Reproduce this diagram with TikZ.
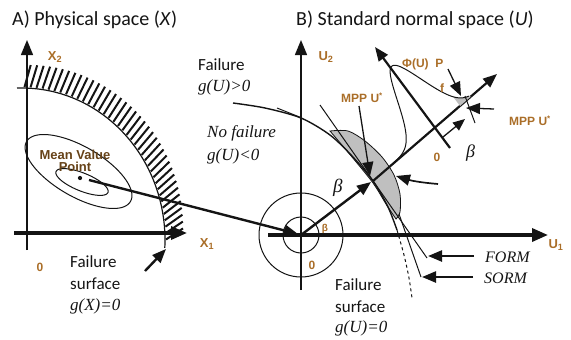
\documentclass[tikz,border=0pt]{standalone}
\usepackage{fontspec}
\setmainfont{Carlito}
\newfontfamily\tnr{Liberation Serif}
\newfontfamily\arl{Liberation Sans}
\usetikzlibrary{arrows.meta}
\definecolor{lbl}{RGB}{170,110,40}
\definecolor{ink}{RGB}{20,20,20}
\begin{document}
\begin{tikzpicture}[x=1pt,y=-1pt,
  bigarrow/.style={line width=2.4pt,draw=ink,-{Triangle[length=14pt,width=11pt]}},
  thinarrow/.style={line width=1.3pt,draw=ink,-{Triangle[length=14pt,width=11pt]}},
  vaxis/.style={line width=1.4pt,draw=ink,-{Triangle[length=15pt,width=12pt]}},
  haxis/.style={line width=3.4pt,draw=ink,-{Triangle[length=16pt,width=13pt]}},
  title/.style={font=\fontsize{20}{24}\selectfont,inner sep=0,anchor=west,text=ink},
  sanstxt/.style={font=\fontsize{17}{20}\selectfont,inner sep=0,anchor=west,text=ink},
  itxt/.style={font=\tnr\itshape\fontsize{17}{20}\selectfont,inner sep=0,anchor=west,text=ink},
  lab/.style={font=\arl\bfseries\fontsize{12}{14}\selectfont,text=lbl,inner sep=0},
  thinline/.style={line width=1pt,draw=ink}]
\useasboundingbox (0,0) rectangle (571,340);

% ---------- titles
\node[title] (tA) at (12,20) {A) Physical space (\textit{X})};
\node[title] (tB) at (296,20) {B) Standard normal space (\textit{U})};

% ---------- left panel
\coordinate (x2b) at (27,250);
\coordinate (x2t) at (27,40);
\coordinate (x1l) at (14,233);
\coordinate (x1r) at (187,233);
\draw[vaxis] (x2b) -- (x2t);
\draw[haxis] (x1l) -- (x1r);
\node[lab,font=\arl\bfseries\fontsize{13}{15}\selectfont] (X2) at (55,57) {X\textsubscript{2}};
\node[lab,font=\arl\bfseries\fontsize{13}{15}\selectfont] (X1) at (207,244) {X\textsubscript{1}};
\node[lab] (zA) at (40,267) {0};

% failure surface with hatching
\draw[line width=1.2pt,draw=ink] plot[domain=-92:3,samples=60,smooth] ({22+143*cos(\x)},{240+152*sin(\x)});
\foreach \a in {-89,-86.6,...,1}{
  \draw[line width=2pt,draw=ink] ({22+144*cos(\a)},{240+153*sin(\a)}) -- ++({11*cos(\a)+6},{11*sin(\a)-11});
}

% contours
\draw[thinline] plot[domain=0:360,samples=60,smooth cycle] ({82+28*cos(\x)*cos(22)-9*sin(\x)*sin(22)},{182+28*cos(\x)*sin(22)+9*sin(\x)*cos(22)});
\begin{scope}
\clip (24,100) rectangle (200,240);
\draw[thinline] plot[domain=0:360,samples=80,smooth cycle] ({78.5+60*cos(\x)*cos(30)-25*sin(\x)*sin(30)},{171.5+60*cos(\x)*sin(30)+25*sin(\x)*cos(30)});
\end{scope}
\node[circle,fill=ink,inner sep=1.5pt] (mvp) at (80,178) {};
\node[lab,font=\arl\bfseries\fontsize{13}{14}\selectfont,text=lbl!60!black,align=center] (mvtxt) at (75,161) {Mean Value\\[-2pt]Point};

\node[sanstxt] (fs1) at (70,262) {Failure};
\node[sanstxt] (fs2) at (70,284) {surface};
\node[itxt] (fs3) at (70,306) {g(X)=0};
\coordinate (fa1) at (145,271);
\coordinate (fa2) at (166,249);
\draw[bigarrow] (fa1) -- (fa2);

% ---------- mapping arrow
\coordinate (mvs) at (89,180);
\coordinate (O) at (301,235);
\coordinate (Oin) at (298,234);
\draw[bigarrow] (mvs) -- (Oin);

% ---------- right panel
\coordinate (u2b) at (301,290);
\coordinate (u2t) at (301,40);
\coordinate (u1l) at (268,235);
\coordinate (u1r) at (548,235);
\draw[vaxis] (u2b) -- (u2t);
\draw[haxis] (u1l) -- (u1r);
\node[lab,font=\arl\bfseries\fontsize{13}{15}\selectfont] (U2) at (326,57) {U\textsubscript{2}};
\node[lab,font=\arl\bfseries\fontsize{13}{15}\selectfont] (U1) at (556,245) {U\textsubscript{1}};
\draw[thinline] (O) circle[radius=18];
\draw[thinline] (O) circle[radius=42];
\node[lab,font=\arl\bfseries\fontsize{10}{12}\selectfont] (bs) at (325,229) {β};
\node[lab] (zB) at (312,265) {0};

% crescent
\filldraw[fill=gray!50,draw=ink,line width=0.8pt]
  plot[smooth] coordinates {(330,131) (348,131) (365,141) (382,157) (394,175) (400,194) (400,212) (396,219)}
  -- plot[smooth] coordinates {(396,219) (386,204) (373,183) (352,157) (330,131)} -- cycle;

% failure surface g(U)=0
\draw[line width=1.4pt,draw=ink] plot[smooth] coordinates {(233,103) (265,108) (301,118) (330,135) (352,156) (373,181) (388,207) (397,230)};
\draw[line width=1pt,draw=ink,dashed] plot[smooth] coordinates {(397,230) (404,255) (409,278) (412,298)};
\coordinate (sl1) at (277,108);
\coordinate (sl2) at (302,118);
\draw[thinline] (sl1) -- (sl2);

% FORM / SORM lines
\coordinate (fm1) at (320,105);
\coordinate (fm2) at (427,258);
\draw[thinline] (fm1) -- (fm2);
\coordinate (sm1) at (399,214);
\coordinate (sm2) at (421,277);
\draw[thinline] (sm1) -- (sm2);
\coordinate (fat) at (474,256);
\coordinate (fah) at (428,256);
\draw[bigarrow] (fat) -- (fah);
\coordinate (sat) at (473,277);
\coordinate (sah) at (422,277);
\draw[bigarrow] (sat) -- (sah);
\node[itxt,font=\tnr\itshape\fontsize{16}{18}\selectfont] (FORM) at (485,257) {FORM};
\node[itxt,font=\tnr\itshape\fontsize{16}{18}\selectfont] (SORM) at (484,278) {SORM};

% beta vector
\coordinate (MPP) at (373,181);
\coordinate (MPPin) at (371,182);
\draw[bigarrow] (O) -- (MPPin);
\node[itxt,font=\tnr\itshape\fontsize{19}{22}\selectfont] (beta) at (333,188) {β};

% MPP labels and pointers
\node[lab] (mppL) at (362,98) {MPP U\textsuperscript{*}};
\coordinate (pl1) at (359,106);
\coordinate (pl2) at (370,176);
\draw[thinarrow] (pl1) -- (pl2);
\coordinate (ra1) at (438,184);
\coordinate (ra2) at (396,176);
\draw[line width=1.7pt,draw=ink,-{Triangle[length=14pt,width=11pt]}] (ra1) to[bend left=6] (ra2);

% rotated frame
\coordinate (bx1) at (MPP);
\coordinate (bx2) at (497,74);
\draw[line width=2.2pt,draw=ink,-{Triangle[length=14pt,width=11pt]}] (bx1) -- (bx2);
\coordinate (px1) at (450,148);
\coordinate (px2) at (375,47);
\draw[line width=2.2pt,draw=ink,-{Triangle[length=14pt,width=11pt]}] (px1) -- (px2);
% tail region
\fill[gray!50] plot[domain=33:47,samples=15] ({435+0.757*\x-0.596*75*exp(-((\x-2)*(\x-2))/512)},{127.5-0.653*\x-0.80*75*exp(-((\x-2)*(\x-2))/512)}) -- (470.6,96.8) -- (460,106) -- cycle;
% bell curve
\draw[line width=1pt,draw=ink] plot[domain=-55:46,samples=90,smooth] ({435+0.757*\x-0.596*75*exp(-((\x-2)*(\x-2))/512)},{127.5-0.653*\x-0.80*75*exp(-((\x-2)*(\x-2))/512)});
% tick at P and beta dimension
\coordinate (tk1) at (465,96);
\coordinate (tk2) at (475,123);
\draw[thinline] (tk1) -- (tk2);
\coordinate (bd1) at (443,137);
\coordinate (bd2) at (465,119);
\draw[line width=1.3pt,draw=ink,-{Triangle[length=12pt,width=10pt]}] (bd1) -- (bd2);
\node[lab] (z2) at (437,157) {0};
\node[itxt,font=\tnr\itshape\fontsize{18}{20}\selectfont] (beta2) at (466,153) {β};
% P arrow and right arrow
\coordinate (pa1) at (448,69);
\coordinate (pa2) at (461,96);
\draw[thinarrow] (pa1) -- (pa2);
\coordinate (ma1) at (494,109);
\coordinate (ma2) at (466,108);
\draw[thinarrow] (ma1) -- (ma2);
\node[lab,anchor=west] (phi) at (402,64) {Φ(U)\ \ P};
\node[lab] (f) at (442,88) {f};
\node[lab] (mppR) at (530,121) {MPP U\textsuperscript{*}};

% texts
\node[sanstxt] (fl1) at (198,65) {Failure};
\node[itxt] (fl2) at (198,87) {g(U)>0};
\node[itxt] (nf1) at (207,133) {No failure};
\node[itxt] (nf2) at (207,156) {g(U)<0};
\node[sanstxt] (fu1) at (335,285) {Failure};
\node[sanstxt] (fu2) at (335,307) {surface};
\node[itxt] (fu3) at (335,328) {g(U)=0};
\end{tikzpicture}
\end{document}
